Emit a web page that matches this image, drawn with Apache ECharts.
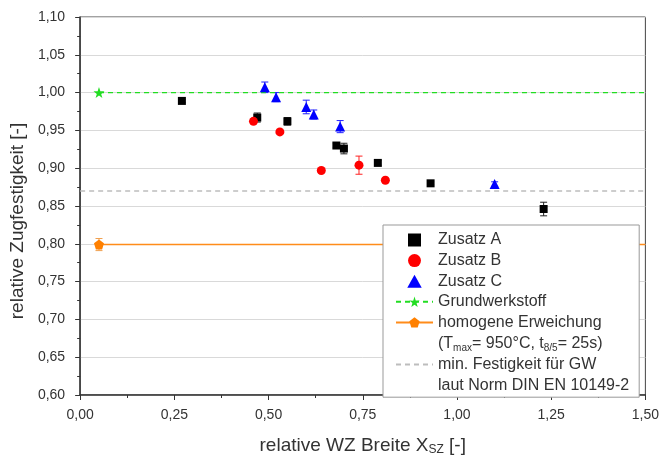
<!DOCTYPE html>
<html>
<head>
<meta charset="utf-8">
<script src="https://cdn.jsdelivr.net/npm/echarts@6/dist/echarts.min.js"></script>
<style>
  html, body { margin: 0; padding: 0; background: #fff; }
  #chart { width: 662px; height: 461px; }
</style>
</head>
<body>
<div id="chart"></div>
<script>
// Zusatz A
const xA = [0.27, 0.47, 0.55, 0.68, 0.70, 0.79, 0.93, 1.23]
const yA = [0.989, 0.967, 0.962, 0.930, 0.926, 0.907, 0.880, 0.846]
const eA = [0.002, 0.006, 0.005, 0.003, 0.007, 0.003, 0.002, 0.009]
// Zusatz B
const xB = [0.46, 0.53, 0.64, 0.74, 0.81]
const yB = [0.962, 0.948, 0.897, 0.904, 0.884]
const eB = [0.003, 0.002, 0.002, 0.012, 0.002]
// Zusatz C
const xC = [0.49, 0.52, 0.60, 0.62, 0.69, 1.10]
const yC = [1.007, 0.994, 0.981, 0.971, 0.955, 0.879]
const eC = [0.007, 0.006, 0.009, 0.006, 0.008, 0.003]
// Grundwerkstoff (Referenz)
const gwX = [0.05, 1.5]
const gwY = [1.0, 1.0]
// homogene Erweichung
const heX = [0.05, 1.5]
const heY = [0.799, 0.799]
const heErr = 0.008
// min. Festigkeit GW
const minX = [0, 1.5]
const minY = [0.87, 0.87]

const FONT = 'Liberation Sans, Arial, sans-serif'
const TXT = '#333'
const fmt = v => v.toFixed(2).replace('.', ',')

const nameA = 'Zusatz A'
const nameB = 'Zusatz B'
const nameC = 'Zusatz C'
const nameGW = 'Grundwerkstoff'
const nameHE = 'homogene Erweichung'
const noteHE = '(Tmax= 950°C, t8/5= 25s)'
const nameMin = 'min. Festigkeit für GW'
const noteMin = 'laut Norm DIN EN 10149-2'

const SQUARE = 'path://M0,0 L10,0 L10,10 L0,10 Z'
const TRI = 'path://M5,0 L10,9 L0,9 Z'
const STAR = 'path://M50,0 L61.8,35.1 L97.6,34.5 L69,56.1 L79.4,90.5 L50,70 L20.6,90.5 L31,56.1 L2.4,34.5 L38.2,35.1 Z'
const PENTA = 'path://M50,0 L100,38 L81,100 L19,100 L0,38 Z'

const zip = (xs, ys, es) => xs.map((x, i) => es ? [x, ys[i], es[i]] : [x, ys[i]])

const errorBar = color => (params, api) => {
  const x = api.value(0), y = api.value(1), e = api.value(2)
  const hi = api.coord([x, y + e])
  const lo = api.coord([x, y - e])
  const w = 3.5
  const style = { stroke: color, lineWidth: 1 }
  return {
    type: 'group',
    children: [
      { type: 'line', shape: { x1: hi[0], y1: hi[1], x2: lo[0], y2: lo[1] }, style },
      { type: 'line', shape: { x1: hi[0] - w, y1: hi[1], x2: hi[0] + w, y2: hi[1] }, style },
      { type: 'line', shape: { x1: lo[0] - w, y1: lo[1], x2: lo[0] + w, y2: lo[1] }, style }
    ]
  }
}

const chart = echarts.init(document.getElementById('chart'), null, { renderer: 'canvas' })

chart.setOption({
  backgroundColor: '#fff',
  animation: false,
  textStyle: { fontFamily: FONT, color: TXT },
  grid: {
    left: 79, top: 17, right: 16, bottom: 62,
    show: true, borderColor: '#444', borderWidth: 1, backgroundColor: 'transparent'
  },
  xAxis: {
    type: 'value', min: 0, max: 1.5, interval: 0.25,
    name: 'relative WZ Breite X{sub|SZ} [-]',
    nameLocation: 'middle', nameGap: 40,
    nameTextStyle: {
      fontSize: 19, color: TXT, fontFamily: FONT,
      rich: { sub: { fontSize: 12, fontFamily: FONT, color: TXT, padding: [9, 0, 0, 0] } }
    },
    axisLine: { lineStyle: { color: '#333', width: 1.5 } },
    axisTick: { show: true, inside: false, length: 5, lineStyle: { color: '#333' } },
    minorTick: { show: true, splitNumber: 2, length: 3, lineStyle: { color: '#333' } },
    axisLabel: { formatter: fmt, fontSize: 14, color: TXT, margin: 13, fontFamily: FONT },
    splitLine: { show: false }
  },
  yAxis: {
    type: 'value', min: 0.6, max: 1.1, interval: 0.05,
    name: 'relative Zugfestigkeit [-]',
    nameLocation: 'middle', nameGap: 52,
    nameTextStyle: { fontSize: 19, color: TXT, fontFamily: FONT, padding: [0, 30, 0, 0] },
    axisLine: { show: true, lineStyle: { color: '#333', width: 1.5 } },
    axisTick: { show: true, inside: false, length: 5, lineStyle: { color: '#333' } },
    minorTick: { show: true, splitNumber: 2, length: 3, lineStyle: { color: '#333' } },
    axisLabel: { formatter: fmt, fontSize: 14, color: TXT, margin: 15, fontFamily: FONT },
    splitLine: { show: true, lineStyle: { color: '#d9d9d9', width: 1 } }
  },
  legend: {
    orient: 'vertical',
    left: 383, top: 225,
    padding: [6, 10, 3, 12],
    backgroundColor: '#fff',
    borderColor: '#999', borderWidth: 1, borderRadius: 0,
    itemWidth: 37, itemHeight: 13, itemGap: 2.6,
    selectedMode: false,
    textStyle: {
      fontSize: 16, color: TXT, fontFamily: FONT, lineHeight: 18,
      rich: { sub: { fontSize: 10, fontFamily: FONT, color: TXT, lineHeight: 18, padding: [9, 0, 0, 0] } }
    },
    formatter: n => n === noteHE ? '(T{sub|max}= 950°C, t{sub|8/5}= 25s)' : n,
    data: [
      { name: nameA, icon: SQUARE },
      { name: nameB, icon: 'circle' },
      { name: nameC, icon: TRI },
      { name: nameGW },
      { name: nameHE },
      { name: noteHE, icon: 'none' },
      { name: nameMin, itemStyle: { opacity: 0 } },
      { name: noteMin, icon: 'none' }
    ]
  },
  series: [
    {
      name: nameMin, type: 'line', data: zip(minX, minY), symbol: 'none', z: 1,
      lineStyle: { color: '#bdbdbd', width: 1.5, type: [5, 4] }, itemStyle: { color: '#bdbdbd' }
    },
    {
      name: nameGW, type: 'line', z: 2,
      data: zip(gwX, gwY).map((d, i) => i === 0 ? { value: d } : { value: d, symbol: 'none' }),
      symbol: STAR, symbolSize: 11,
      lineStyle: { color: '#22dd22', width: 1.2, type: [5, 4] }, itemStyle: { color: '#22dd22' }
    },
    {
      name: nameHE + ' err', type: 'custom', z: 2,
      renderItem: errorBar('#f0a050'),
      data: [[heX[0], heY[0], heErr]]
    },
    {
      name: nameHE, type: 'line', z: 3,
      data: zip(heX, heY).map((d, i) => i === 0 ? { value: d } : { value: d, symbol: 'none' }),
      symbol: PENTA, symbolSize: 10,
      lineStyle: { color: '#ff8c1a', width: 1.5 }, itemStyle: { color: '#ff8000' }
    },
    { name: nameA + ' err', type: 'custom', z: 2, renderItem: errorBar('#222'), data: zip(xA, yA, eA) },
    { name: nameB + ' err', type: 'custom', z: 2, renderItem: errorBar('#ff2020'), data: zip(xB, yB, eB) },
    { name: nameC + ' err', type: 'custom', z: 2, renderItem: errorBar('#2020ff'), data: zip(xC, yC, eC) },
    {
      name: nameA, type: 'scatter', z: 4, symbol: 'rect', symbolSize: 8,
      itemStyle: { color: '#000', opacity: 1 }, data: zip(xA, yA)
    },
    {
      name: nameB, type: 'scatter', z: 4, symbol: 'circle', symbolSize: 9,
      itemStyle: { color: '#ff0000', opacity: 1 }, data: zip(xB, yB)
    },
    {
      name: nameC, type: 'scatter', z: 4, symbol: 'triangle', symbolSize: 10,
      itemStyle: { color: '#0000ff', opacity: 1 }, data: zip(xC, yC)
    },
    { name: noteHE, type: 'line', data: [] },
    { name: noteMin, type: 'line', data: [] }
  ]
})
</script>
</body>
</html>
